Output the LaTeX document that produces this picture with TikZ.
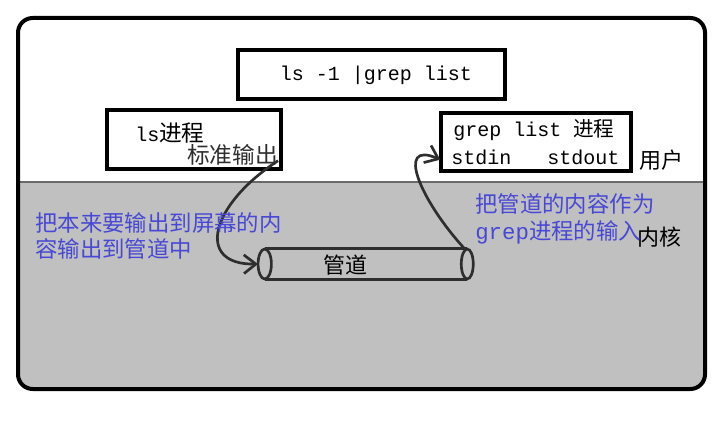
\documentclass[tikz,border=0pt]{standalone}
\usepackage{fontspec}
\setmainfont{Noto Sans CJK SC}
\setmonofont{Liberation Mono}
\usetikzlibrary{arrows.meta}
\definecolor{kernelgray}{HTML}{C0C0C0}
\definecolor{noteblue}{HTML}{4848D6}
\definecolor{inkgray}{HTML}{2E2E2E}
\definecolor{sepgray}{HTML}{6A6A6A}
\newcommand\codetxt[1]{{\fontsize{15pt}{18pt}\selectfont\ttfamily #1}}
\begin{document}
\begin{tikzpicture}[x=0.75pt,y=-0.75pt,
  font=\fontsize{17pt}{20pt}\selectfont,
  procbox/.style={draw=black,line width=3.6pt,inner sep=0pt},
  txt/.style={inner sep=0pt,anchor=west},
  note/.style={inner sep=0pt,anchor=west,align=left,text=noteblue,font=\fontsize{16.8pt}{19.8pt}\selectfont},
  flow/.style={draw=inkgray,line width=2pt,-{Straight Barb[length=9pt,width=14pt,line width=2pt]}},
  pipeline/.style={draw=inkgray,line width=2pt}
]
\useasboundingbox (0,0) rectangle (721,445);
\fill[white] (0,0) rectangle (721,445);
\begin{scope}
\clip[rounded corners=11pt] (18,18) rectangle (705,389);
\fill[kernelgray] (18,183) rectangle (705,389);
\end{scope}
\draw[sepgray,line width=1.5pt] (18,182) -- (705,182);
\draw[black,line width=3pt,rounded corners=11pt] (18,18) rectangle (705,389);

% command box
\node[procbox,minimum width=200.25pt,minimum height=36.75pt] (cmd) at (371.5,74.5) {};
\node[inner sep=0pt] (cmdtext) at (376,75) {\codetxt{ls -1 |grep list}};

% ls process
\node[procbox,minimum width=130.5pt,minimum height=44.25pt] (ls) at (194,139.5) {};
\node[txt] (lstext) at (135,133) {\codetxt{ls}进程};
\node[txt,text=inkgray] (lsout) at (187,155) {标准输出};

% grep process
\node[procbox,minimum width=142.5pt,minimum height=43.5pt] (grep) at (536,142) {};
\node[txt,font=\fontsize{15.5pt}{18pt}\selectfont] (greptitle) at (453,130) {\codetxt{grep list }进程};
\node[txt] (stdin) at (451,157) {\codetxt{stdin}};
\node[txt] (stdout) at (547,157) {\codetxt{stdout}};

\node[txt,font=\fontsize{16.5pt}{19pt}\selectfont] (user) at (639,160) {用户};
\node[txt,font=\fontsize{16.5pt}{19pt}\selectfont] (kernel) at (637,237) {内核};

% pipe
\node[minimum width=151.5pt,minimum height=22.5pt,inner sep=0pt] (pipe) at (366,264) {};
\draw[pipeline] (pipe.north west) -- (pipe.north east) (pipe.south west) -- (pipe.south east);
\draw[pipeline] (pipe.west) ellipse [x radius=5pt,y radius=11.25pt];
\draw[pipeline] (pipe.east) ellipse [x radius=4.5pt,y radius=11.25pt];
\node[inner sep=0pt,font=\fontsize{16.5pt}{19pt}\selectfont] (pipetext) at (345,265) {管道};

% connectors
\draw[flow] ([xshift=-4pt,yshift=8pt]ls.south east) .. controls (210,205) and (195,265) .. ([xshift=-5pt]pipe.west);
\draw[flow] ([xshift=-2pt]pipe.north east) .. controls (420,200) and (395,140) .. ([xshift=-8pt,yshift=-2pt]stdin.west);

% notes
\node[note] (leftnote) at (35,236) {把本来要输出到屏幕的内\\容输出到管道中};
\node[note] (rightnote) at (475,219) {把管道的内容作为\\{\ttfamily grep}进程的输入};
\end{tikzpicture}
\end{document}
